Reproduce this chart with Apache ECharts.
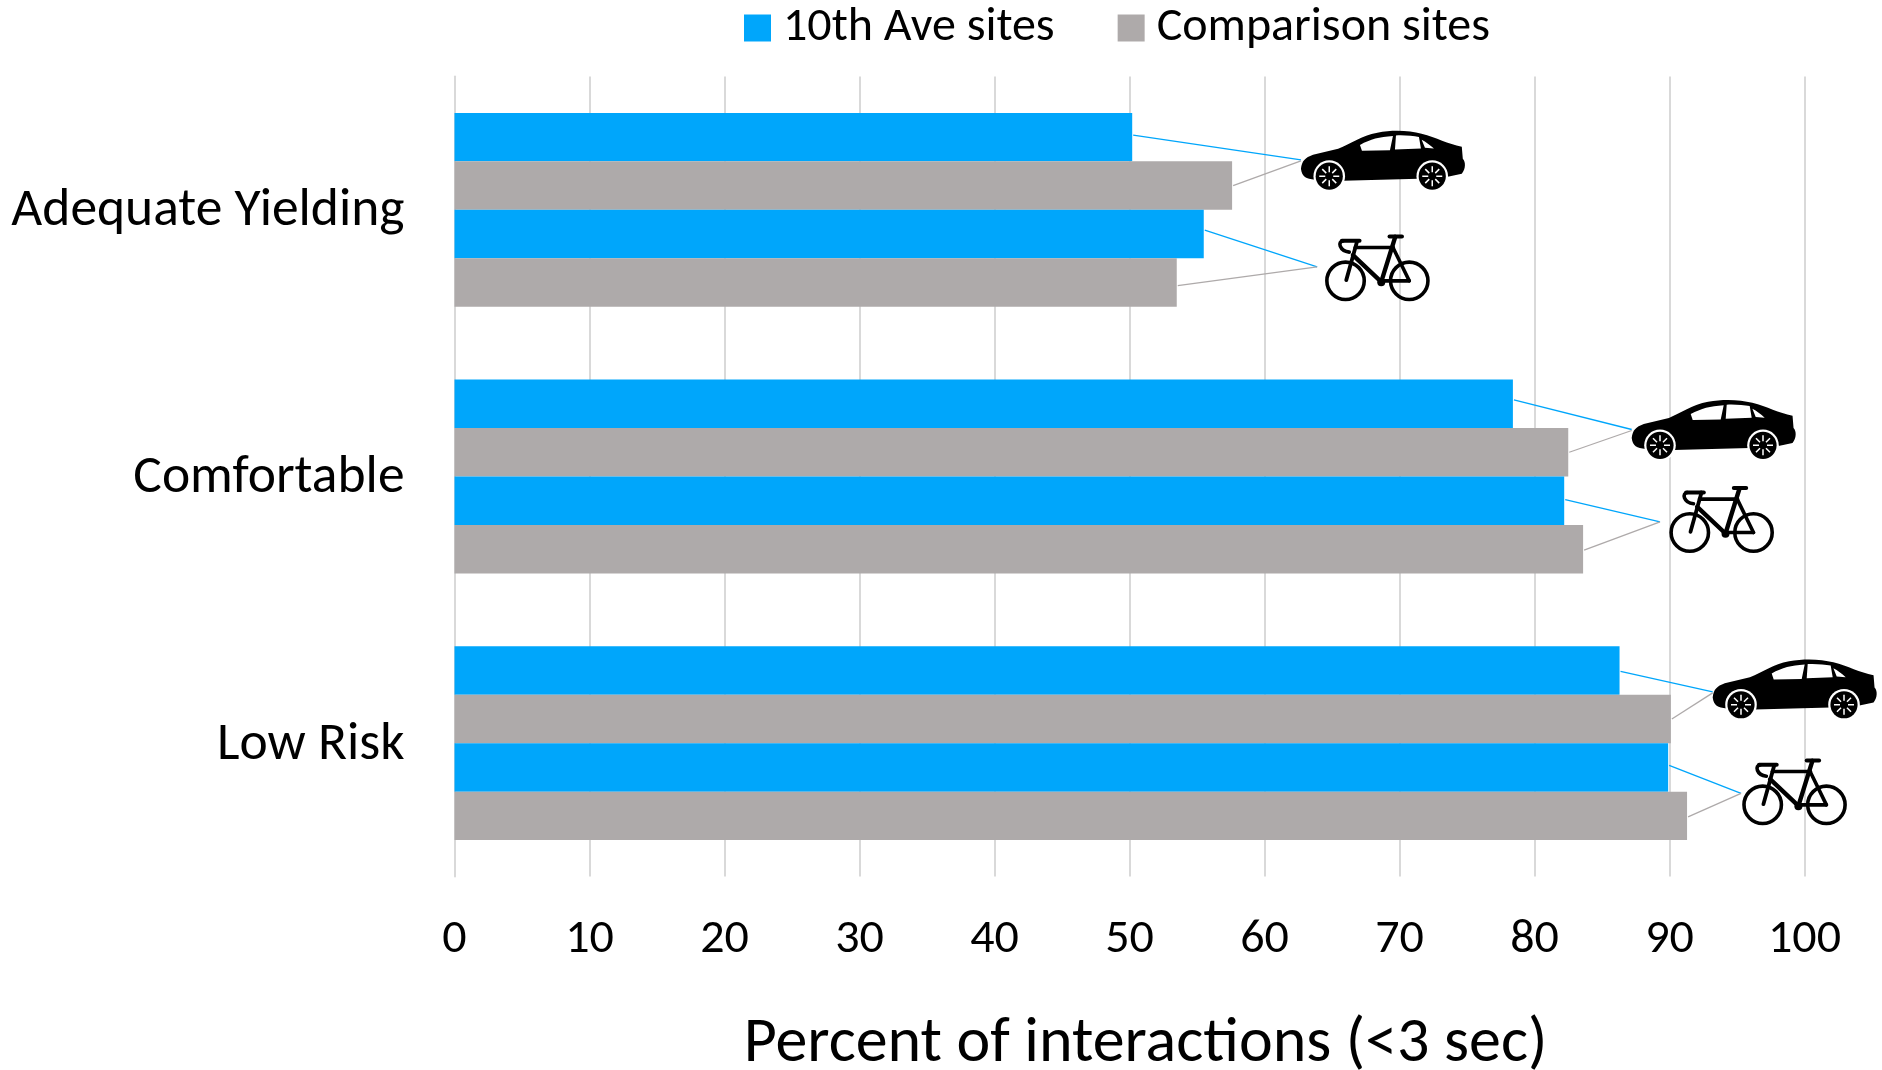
<!DOCTYPE html>
<html>
<head>
<meta charset="utf-8">
<style>html,body{margin:0;padding:0;background:#fff}#chart{width:1882px;height:1070px}</style>
<script src="https://cdn.jsdelivr.net/npm/echarts@6/dist/echarts.min.js"></script>
</head>
<body>
<div id="chart"></div>
<script>
const categories = ['Adequate Yielding', 'Comfortable', 'Low Risk'];
const tickValues = [0, 10, 20, 30, 40, 50, 60, 70, 80, 90, 100];
const axisTitle = 'Percent of interactions (<3 sec)';
const tenthName = '10th Ave sites';
const comparisonName = 'Comparison sites';

// Percent of interactions, split by road user
const carTenth = [50.2, 78.4, 86.3];
const carComparison = [57.6, 82.5, 90.1];
const bikeTenth = [55.5, 82.2, 89.9];
const bikeComparison = [53.5, 83.6, 91.3];

// Where each group's icon sits along the value axis
const carIconAt = [62.7, 87.2, 93.2];
const bikeIconAt = [64.5, 90.0, 95.4];
const bikeLeaderAt = [63.9, 89.3, 95.3];

const BLUE = '#00a6fb';
const GREY = '#aeaaaa';
const FONT = 'Carlito, Lato, sans-serif';
const BAR_STEP = 0.1818;

// Vertical icon placement within a band, in pixels from the band centre
const carTop = [-79, -76.5, -83.7];
const carLeaderEnd = [-50, -47, -51.3];
const bikeTop = [24.3, 9.3, 15];
const bikeLeaderEnd = [57, 45.3, 50.3];

// Small nudges of the leader starts away from the bar's mid-line, in pixels
const carTenthNudge = [-2, -4, 1];
const bikeTenthNudge = [-4, -1, -2];
const bikeComparisonNudge = [3, 1, 1];

// Car silhouette, drawn in a 164 x 50 box
const carBody = 'M0 38 C1 30 4 27 12 24 L37 18 C50 13 60 5 76 2 C92 -1 108 0 120 3 C135 7 146 13 160 16 L161 28 ' +
  'C164 31 164 38 160 43 L146 46 C144 32 119 32 117 48 L42 50 C38 34 16 34 14 49 C5 48 1 46 0 38 Z';
const carGlass = 'M59 14 C70 8 78 6 92 5 L89 19.5 L61 20 Z M95 4.5 C103 4 112 5 118 6 L120 17.7 L94 18.7 Z M120.7 8.7 C125 11 129 14 133 17.7 L124 17 Z';
const wheelHub = 'M0 -10 L0 -4 M0 10 L0 4 M-10 0 L-4 0 M10 0 L4 0 M-7 -7 L-3 -3 M7 7 L3 3 M7 -7 L3 -3 M-7 7 L-3 3';

function wheel(cx, cy) {
  return [
    { type: 'circle', shape: { cx, cy, r: 15.8 }, style: { fill: '#fff' } },
    { type: 'circle', shape: { cx, cy, r: 13.6 }, style: { fill: '#000' } },
    { type: 'path', x: cx, y: cy, shape: { pathData: wheelHub, x: -10, y: -10, width: 20, height: 20 },
      style: { fill: 'none', stroke: '#fff', lineWidth: 1.5 } }
  ];
}

// Straight strokes of the bicycle: x1, y1, x2, y2, width
const bikeStrokes = [
  [16.7, 6.7, 34.3, 6.7, 4],
  [32, 6.7, 21, 46, 3.8],
  [30, 13.3, 68, 13.3, 3.6],
  [27.7, 21, 56, 47.7, 4.4],
  [70, 2.7, 56, 47.7, 4.4],
  [64.3, 2.3, 76.7, 2.3, 4],
  [67.7, 13.3, 84, 46.7, 3.6],
  [56, 46.7, 84, 46.7, 3.6]
];

function bikeParts() {
  const parts = [
    { type: 'circle', shape: { cx: 20.3, cy: 46.7, r: 18.7 }, style: { fill: 'none', stroke: '#000', lineWidth: 3.6 } },
    { type: 'circle', shape: { cx: 84, cy: 46.7, r: 18.7 }, style: { fill: 'none', stroke: '#000', lineWidth: 3.6 } },
    { type: 'circle', shape: { cx: 56, cy: 48, r: 4 }, style: { fill: '#000' } },
    { type: 'bezierCurve',
      shape: { x1: 18, y1: 6.7, cpx1: 12, cpy1: 7, cpx2: 14, cpy2: 17, x2: 24, y2: 18 },
      style: { fill: 'none', stroke: '#000', lineWidth: 3.6, lineCap: 'round' } }
  ];
  bikeStrokes.forEach(function (s) {
    parts.push({ type: 'line', shape: { x1: s[0], y1: s[1], x2: s[2], y2: s[3] },
      style: { stroke: '#000', lineWidth: s[4], lineCap: 'round' } });
  });
  return parts;
}

function leader(api, fromValue, barOffset, nudge, toValue, endOffset, color) {
  const band = api.size([0, 1])[1];
  const idx = api.value(0);
  const a = api.coord([fromValue, idx]);
  const b = api.coord([toValue, idx]);
  return {
    type: 'line',
    shape: { x1: a[0] + 1, y1: a[1] + barOffset * band + nudge, x2: b[0], y2: b[1] + endOffset },
    style: { stroke: color, lineWidth: 1.3 }
  };
}

function renderCallouts(params, api) {
  const i = api.value(0);
  const carPt = api.coord([carIconAt[i], i]);
  const bikePt = api.coord([bikeIconAt[i], i]);
  return {
    type: 'group',
    children: [
      leader(api, carTenth[i], -1.5 * BAR_STEP, carTenthNudge[i], carIconAt[i], carLeaderEnd[i], BLUE),
      leader(api, carComparison[i], -0.5 * BAR_STEP, 0, carIconAt[i], carLeaderEnd[i] + 1, GREY),
      leader(api, bikeTenth[i], 0.5 * BAR_STEP, bikeTenthNudge[i], bikeLeaderAt[i], bikeLeaderEnd[i], BLUE),
      leader(api, bikeComparison[i], 1.5 * BAR_STEP, bikeComparisonNudge[i], bikeLeaderAt[i], bikeLeaderEnd[i], GREY),
      {
        type: 'group', x: carPt[0], y: carPt[1] + carTop[i],
        children: [
          { type: 'path', shape: { pathData: carBody, layout: 'cover', x: 0, y: 0, width: 164, height: 50 }, style: { fill: '#000' } },
          { type: 'path', shape: { pathData: carGlass, layout: 'cover', x: 59, y: 4.5, width: 74, height: 15.5 }, style: { fill: '#fff' } },
          ...wheel(28.3, 45.3),
          ...wheel(131.3, 45.3)
        ]
      },
      { type: 'group', x: bikePt[0], y: bikePt[1] + bikeTop[i], children: bikeParts() }
    ]
  };
}

function bars(name, data, color) {
  return {
    name, type: 'bar', data, barGap: 0, barCategoryGap: '27.3%',
    itemStyle: { color }, animation: false, z: 3
  };
}

const chart = echarts.init(document.getElementById('chart'), null, { renderer: 'canvas' });
chart.setOption({
  animation: false,
  backgroundColor: '#fff',
  legend: {
    data: [tenthName, comparisonName],
    top: 4, left: 744, padding: 0,
    icon: 'rect', itemWidth: 27, itemHeight: 27, itemGap: 63,
    selectedMode: false,
    textStyle: { fontFamily: FONT, fontSize: 48, color: '#000', padding: [0, 0, 0, 7] }
  },
  grid: { left: 454.5, width: 1350, top: 76.5, height: 800, outerBoundsMode: 'none' },
  xAxis: {
    type: 'value', min: tickValues[0], max: tickValues[tickValues.length - 1], interval: 10,
    axisLine: { show: false }, axisTick: { show: false },
    splitLine: { show: true, lineStyle: { color: '#d9d9d9', width: 2 } },
    axisLabel: { fontFamily: FONT, fontSize: 48, color: '#000', margin: 39 },
    name: axisTitle, nameLocation: 'middle', nameGap: 136,
    nameTextStyle: { fontFamily: FONT, fontSize: 64, color: '#000', padding: [0, 0, 0, 32] }
  },
  yAxis: {
    type: 'category', data: categories, inverse: true,
    axisLine: { show: true, lineStyle: { color: '#d9d9d9', width: 2 } },
    axisTick: { show: false },
    axisLabel: { fontFamily: FONT, fontSize: 53.5, color: '#000', margin: 50, verticalAlign: 'top', padding: [-25, 0, 0, 0] }
  },
  series: [
    bars(tenthName, carTenth, BLUE),
    bars(comparisonName, carComparison, GREY),
    bars(tenthName, bikeTenth, BLUE),
    bars(comparisonName, bikeComparison, GREY),
    {
      name: 'callouts', type: 'custom', z: 4, clip: false, silent: true,
      renderItem: renderCallouts,
      encode: { x: 1, y: 0 },
      data: categories.map((c, i) => [i, carIconAt[i]])
    }
  ]
});
</script>
</body>
</html>
